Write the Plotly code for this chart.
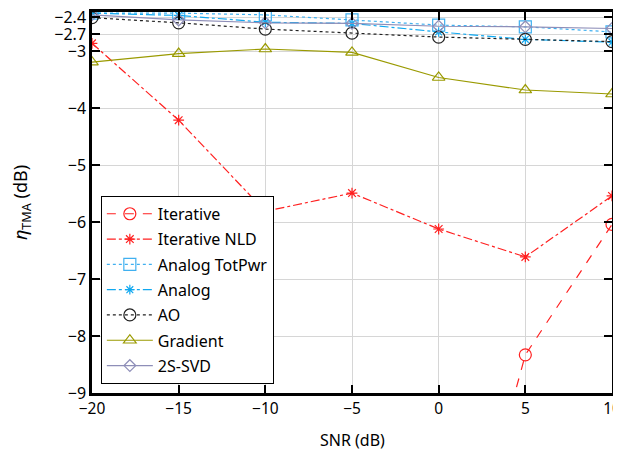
import plotly.graph_objects as go

snr = [-20, -15, -10, -5, 0, 5, 10]

iterative = [-15.0, -14.8, -14.6, -14.3, -13.9, -8.33, -6.04]
iterative_nld = [-2.86, -4.21, -5.81, -5.49, -6.12, -6.61, -5.54]
analog_totpwr = [-2.33, -2.33, -2.36, -2.45, -2.54, -2.57, -2.66]
analog = [-2.33, -2.37, -2.49, -2.51, -2.66, -2.79, -2.84]
ao = [-2.41, -2.50, -2.61, -2.68, -2.75, -2.79, -2.83]
gradient = [-3.19, -3.04, -2.96, -3.02, -3.46, -3.68, -3.75]
svd2s = [-2.36, -2.45, -2.50, -2.51, -2.56, -2.57, -2.60]

y_ticks = [-9, -8, -7, -6, -5, -4, -3, -2.7, -2.4]
y_ticktext = ["\u22129", "\u22128", "\u22127", "\u22126", "\u22125", "\u22124", "\u22123", "\u22122.7", "\u22122.4"]
x_ticks = [-20, -15, -10, -5, 0, 5, 10]
x_ticktext = ["\u221220", "\u221215", "\u221210", "\u22125", "0", "5", "10"]

series = [
    ("Iterative", iterative, "#ff2020", "dash", "circle-open", 12),
    ("Iterative NLD", iterative_nld, "#ff2020", "dashdot", "asterisk-open", 9),
    ("Analog TotPwr", analog_totpwr, "#40b0f0", "dot", "square-open", 12),
    ("Analog", analog, "#10a8f0", "dashdot", "asterisk-open", 8),
    ("AO", ao, "#222222", "dot", "circle-open", 12),
    ("Gradient", gradient, "#9a9a00", "solid", "triangle-up-open", 11),
    ("2S-SVD", svd2s, "#8e8eb8", "solid", "diamond-open", 9),
]

fig = go.Figure()
for name, ys, color, dash, sym, size in series:
    fig.add_trace(go.Scatter(
        x=snr, y=ys, name=name, legendgroup=name, mode="lines+markers",
        line=dict(color=color, dash=dash, width=1.2),
        marker=dict(symbol=sym, size=size, color=color, line=dict(color=color, width=1.2)),
        cliponaxis=True,
    ))

font_family = "Noto Sans, DejaVu Sans, sans-serif"
# the page body adds an 8px offset; size and margins compensate for it
fig.update_layout(
    width=613, height=442,
    margin=dict(l=84, r=9, t=4, b=57),
    paper_bgcolor="white", plot_bgcolor="white",
    font=dict(family=font_family, size=16, color="black"),
    showlegend=True,
    legend=dict(
        x=0.017, y=0.024, xanchor="left", yanchor="bottom",
        bgcolor="white", bordercolor="black", borderwidth=1,
        font=dict(size=16), tracegroupgap=1.5, itemwidth=46,
    ),
    xaxis=dict(
        range=[-20, 10], tickvals=x_ticks, ticktext=x_ticktext,
        tickfont=dict(size=15.5),
        showgrid=True, gridcolor="#d6d6d6", gridwidth=1,
        showline=True, linecolor="black", linewidth=2.5, mirror="ticks",
        ticks="inside", ticklen=8, tickwidth=2, tickcolor="black",
        zeroline=False, automargin=False, ticklabeloverflow="allow",
    ),
    yaxis=dict(
        range=[-9, -2.31], tickvals=y_ticks, ticktext=y_ticktext,
        showgrid=True, gridcolor="#d6d6d6", gridwidth=1,
        showline=True, linecolor="black", linewidth=2.5, mirror="ticks",
        ticks="inside", ticklen=8, tickwidth=2, tickcolor="black",
        zeroline=False, automargin=False, ticklabeloverflow="allow",
        title=dict(text="<i>\u03b7</i><sub>TMA</sub> (dB)", standoff=26, font=dict(size=18)),
    ),
    annotations=[dict(
        text="SNR (dB)", xref="paper", yref="paper", x=0.5, y=-0.1234,
        xanchor="center", yanchor="middle", showarrow=False, font=dict(size=16),
    )],
)

fig.write_html("out.html")
